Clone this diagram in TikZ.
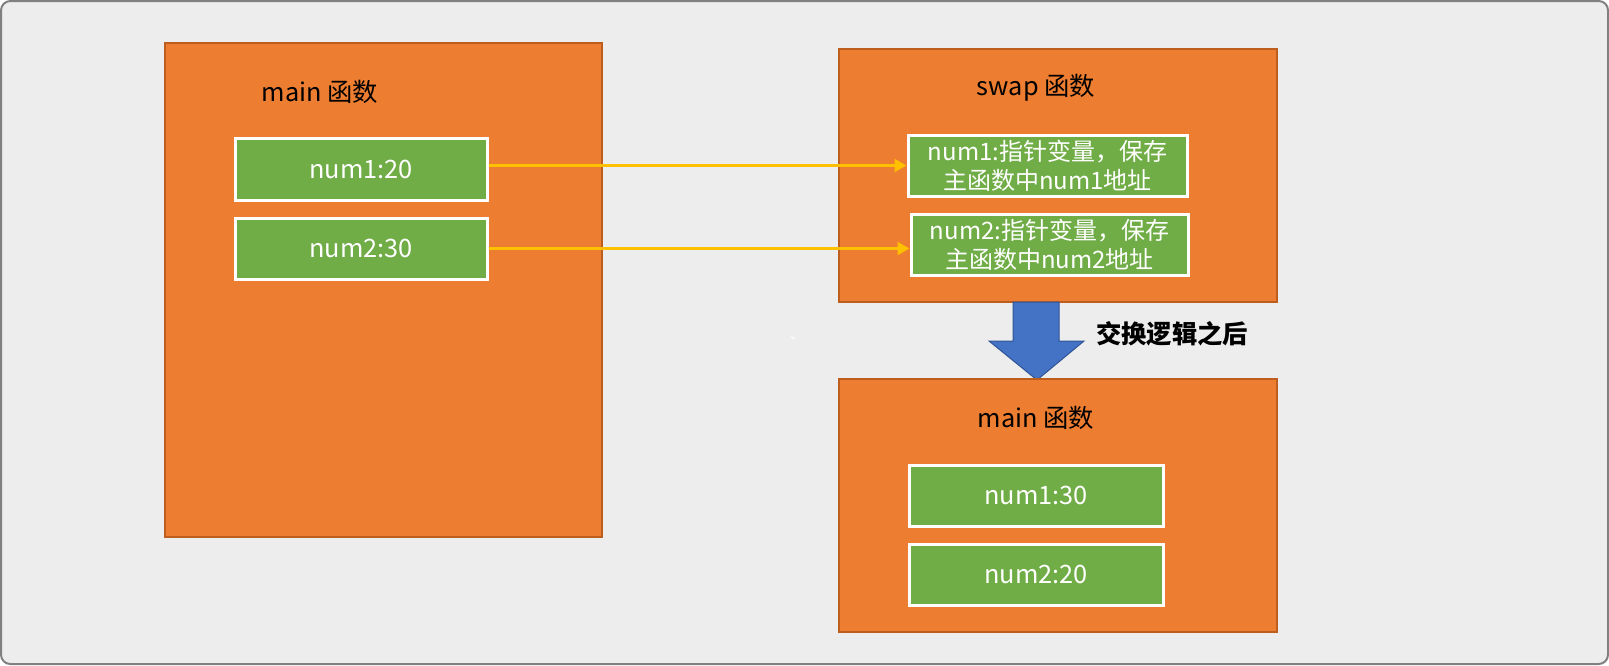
\documentclass[tikz,border=0pt]{standalone}
\usepackage{fontspec}
\setmainfont{Noto Sans CJK SC}
\usetikzlibrary{arrows.meta}
\definecolor{bgc}{HTML}{EDEDED}
\definecolor{bgline}{HTML}{808080}
\definecolor{orangef}{HTML}{ED7D31}
\definecolor{oranged}{HTML}{BE5E1E}
\definecolor{greenf}{HTML}{70AD47}
\definecolor{yel}{HTML}{FFC000}
\definecolor{bluef}{HTML}{4472C4}
\definecolor{blued}{HTML}{2F5597}
\newlength\px
\setlength\px{0.75pt}
\tikzset{
  funcbox/.style={draw=oranged, fill=orangef, line width=1.5pt, inner sep=0pt},
  varbox/.style={draw=white, fill=greenf, line width=2.25pt, inner sep=0pt, text=white, font=\fontsize{19}{23}\selectfont, align=center},
  ptrbox/.style={varbox, font=\fontsize{18}{21.5}\selectfont},
  title/.style={text=black, font=\fontsize{19}{23}\selectfont, inner sep=0pt},
  ptrarrow/.style={draw=yel, line width=2.2pt, -{Triangle[length=9pt,width=9.5pt]}},
}
\begin{document}
\begin{tikzpicture}[x=0.75pt,y=-0.75pt]
\useasboundingbox (0,0) rectangle (1609,665);
\draw[draw=bgline, fill=bgc, line width=1.5pt, rounded corners=7pt] (1,1) rectangle (1608,664);

% left main box
\node[funcbox, minimum width=437\px, minimum height=494\px] (mainL) at (383.5,290) {};
\node[title] (mainLt) at (320,92) {main 函数};
\node[varbox, minimum width=252\px, minimum height=62\px] (g1) at (361,169) {num1:20};
\node[varbox, minimum width=252\px, minimum height=61\px] (g2) at (361,248.5) {num2:30};

% swap box
\node[funcbox, minimum width=438\px, minimum height=253\px] (swapB) at (1058,175.5) {};
\node[title] (swapt) at (1036,88) {swap 函数};
\node[ptrbox, minimum width=279\px, minimum height=61\px] (s1) at (1047.5,165.5) {num1:指针变量，保存\\主函数中num1地址};
\node[ptrbox, minimum width=277\px, minimum height=61\px] (s2) at (1049.5,244.5) {num2:指针变量，保存\\主函数中num2地址};

% arrows
\draw[ptrarrow] (g1.east |- s1.west) -- (s1.west);
\draw[ptrarrow] (g2.east) -- (s2.west |- g2.east);

% blue block arrow
\fill[bluef, draw=blued, line width=0.75pt]
  (1013,302) -- (1059,302) -- (1059,341) -- (1084,341) -- (1037,380)
  -- (989,341) -- (1013,341) -- cycle;
\node[font=\fontsize{19}{23}\selectfont\bfseries, inner sep=0pt] (lbl) at (1172,334) {交换逻辑之后};
\node[text=white, font=\fontsize{10}{11}\selectfont, inner sep=0pt] (mark) at (797,338) {、};

% bottom main box
\node[funcbox, minimum width=438\px, minimum height=253\px] (mainB) at (1058,505.5) {};
\node[title] (mainBt) at (1036,418) {main 函数};
\node[varbox, minimum width=254\px, minimum height=61\px] (b1) at (1036,495.5) {num1:30};
\node[varbox, minimum width=254\px, minimum height=61\px] (b2) at (1036,574.5) {num2:20};
\end{tikzpicture}
\end{document}
